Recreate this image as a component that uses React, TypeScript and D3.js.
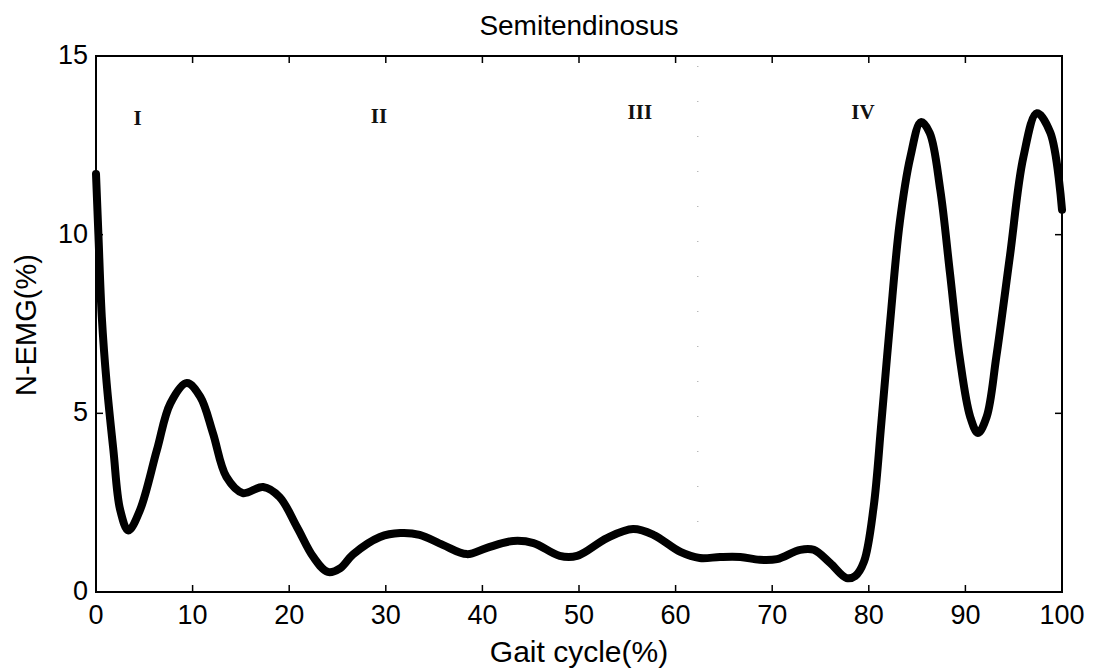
import React from "react";
import * as d3 from "d3";

const gaitX = [0, 0.25, 0.6, 1.1, 1.8, 2.5, 3.35, 4.55, 6.3, 7.7, 9.4, 10.8, 12.1, 13.5, 15.2, 17.3, 19.0, 20.8, 22.5, 24.0, 25.3, 26.6, 29.4, 31.5, 33.5, 35.9, 38.4, 40.4, 43.2, 45.3, 48.0, 49.8, 52.9, 55.6, 57.7, 60.5, 62.5, 64.6, 66.7, 68.7, 70.5, 72.9, 74.3, 76.0, 77.7, 78.6, 79.5, 80.5, 81.3, 82.2, 83.2, 84.3, 85.4, 86.3, 87.4, 88.4, 89.4, 90.5, 91.3, 92.2, 93.2, 94.6, 96.0, 97.4, 98.8, 100];
const emgY = [11.7, 10.0, 7.7, 5.85, 3.97, 2.3, 1.72, 2.29, 3.97, 5.28, 5.85, 5.46, 4.45, 3.22, 2.77, 2.94, 2.66, 1.82, 0.98, 0.56, 0.67, 1.05, 1.54, 1.65, 1.6, 1.32, 1.06, 1.23, 1.43, 1.37, 1.01, 1.01, 1.51, 1.76, 1.6, 1.12, 0.95, 0.98, 0.98, 0.9, 0.92, 1.18, 1.18, 0.81, 0.39, 0.45, 0.85, 2.38, 4.73, 7.53, 10.33, 12.17, 13.15, 12.85, 11.25, 8.93, 6.58, 4.9, 4.45, 4.9, 6.58, 9.38, 12.17, 13.4, 12.85, 10.7];

const xTicks = [0, 10, 20, 30, 40, 50, 60, 70, 80, 90, 100];
const yTicks = [0, 5, 10, 15];

const phaseLabels = ["I", "II", "III", "IV"];
const phaseX = [4.3, 29.3, 56.3, 79.4];
const phaseY = [13.3, 13.35, 13.45, 13.45];

const title = "Semitendinosus";
const xLabel = "Gait cycle(%)";
const yLabel = "N-EMG(%)";

export default function App() {
  const W = 1096, H = 671;
  const left = 96, right = 1062, top = 56, bottom = 592;
  const x = d3.scaleLinear().domain([0, 100]).range([left, right]);
  const y = d3.scaleLinear().domain([0, 15]).range([bottom, top]);
  const pts = gaitX.map((v, i) => [v, emgY[i]] as [number, number]);
  const line = d3.line<[number, number]>()
    .x(d => x(d[0]))
    .y(d => y(d[1]))
    .curve(d3.curveCatmullRom.alpha(0.5));
  const font = "'Liberation Sans', Arial, sans-serif";
  const tickLen = 7;
  return (
    <svg width={W} height={H} style={{ position: "absolute", left: 0, top: 0, background: "#fff" }}>
      <rect x={0} y={0} width={W} height={H} fill="#fff" />
      {/* faint dotted phase divider */}
      <line x1={x(62.3)} x2={x(62.3)} y1={top + 10} y2={bottom - 5} stroke="#999" strokeWidth={1} strokeDasharray="1 34" />
      {/* frame */}
      <rect x={left} y={top} width={right - left} height={bottom - top} fill="none" stroke="#000" strokeWidth={2} />
      {xTicks.map(t => (
        <g key={"xt" + t}>
          <line x1={x(t)} x2={x(t)} y1={bottom} y2={bottom - tickLen} stroke="#000" strokeWidth={1.5} />
          <line x1={x(t)} x2={x(t)} y1={top} y2={top + tickLen} stroke="#000" strokeWidth={1.5} />
          <text x={x(t)} y={624} textAnchor="middle" fontFamily={font} fontSize={27} fill="#000">{t}</text>
        </g>
      ))}
      {yTicks.map(t => (
        <g key={"yt" + t}>
          <line x1={left} x2={left + tickLen} y1={y(t)} y2={y(t)} stroke="#000" strokeWidth={1.5} />
          <line x1={right} x2={right - tickLen} y1={y(t)} y2={y(t)} stroke="#000" strokeWidth={1.5} />
          <text x={88} y={y(t) + 8} textAnchor="end" fontFamily={font} fontSize={27} fill="#000">{t}</text>
        </g>
      ))}
      <path d={line(pts) || ""} fill="none" stroke="#000" strokeWidth={8} strokeLinejoin="round" strokeLinecap="round" />
      {phaseLabels.map((p, i) => (
        <text key={p} x={x(phaseX[i])} y={y(phaseY[i]) + 8} textAnchor="middle" fontFamily="'Liberation Serif', 'DejaVu Serif', serif" fontWeight="bold" fontSize={21} fill="#111">{p}</text>
      ))}
      <text x={579} y={35} textAnchor="middle" fontFamily={font} fontSize={28} fill="#000">{title}</text>
      <text x={579} y={662} textAnchor="middle" fontFamily={font} fontSize={30} fill="#000">{xLabel}</text>
      <text transform={`translate(36, 325) rotate(-90)`} textAnchor="middle" fontFamily={font} fontSize={29} fill="#000">{yLabel}</text>
    </svg>
  );
}
